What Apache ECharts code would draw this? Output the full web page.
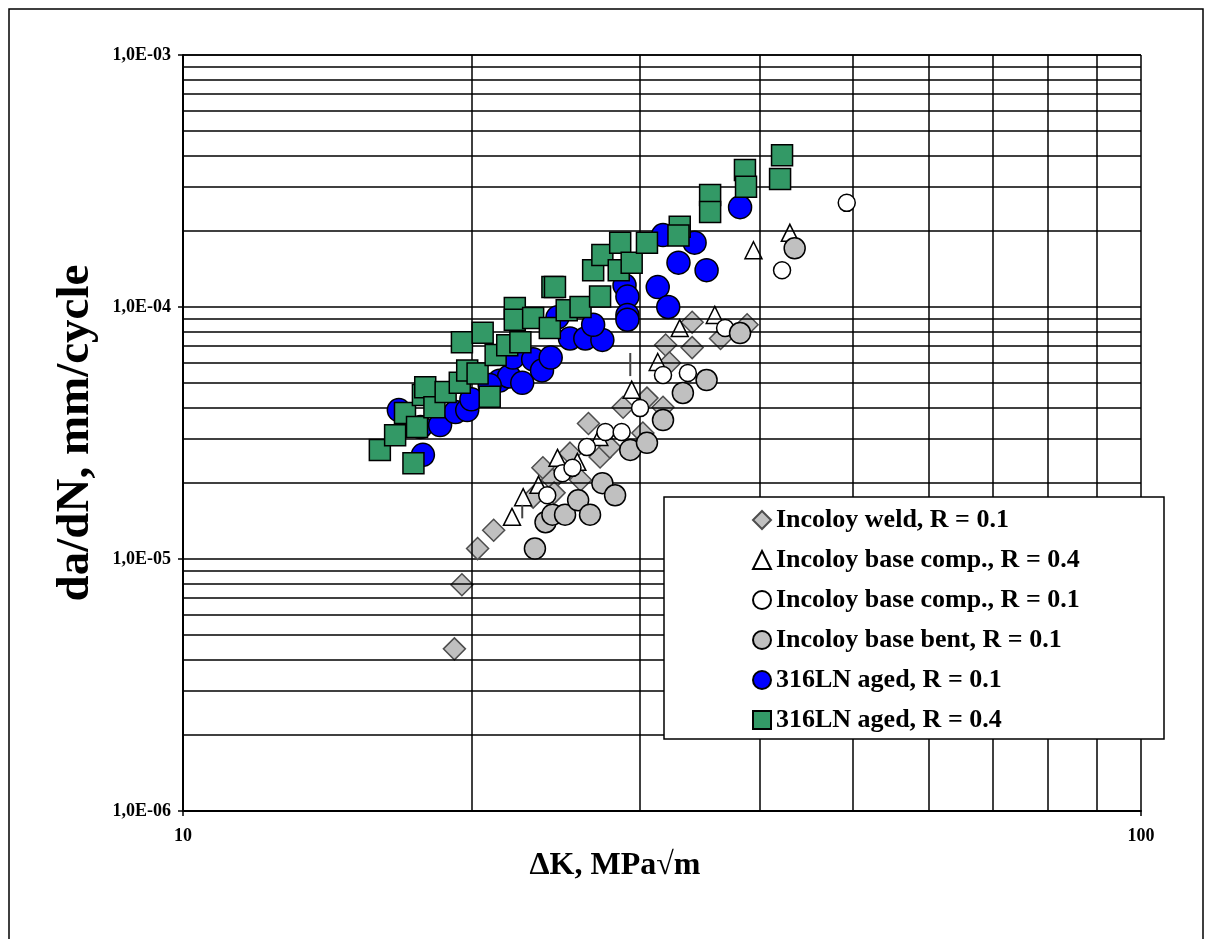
<!DOCTYPE html>
<html>
<head>
<meta charset="utf-8">
<script src="https://cdn.jsdelivr.net/npm/echarts@6/dist/echarts.min.js"></script>
<style>
html,body{margin:0;padding:0;background:#fff;}
#c{width:1211px;height:939px;}
</style>
</head>
<body>
<div id="c"></div>
<script>
// ---- Data (ΔK [MPa√m], da/dN [mm/cycle]) ----
const seriesNames = [
  'Incoloy weld, R = 0.1',
  'Incoloy base comp., R = 0.4',
  'Incoloy base comp., R = 0.1',
  'Incoloy base bent, R = 0.1',
  '316LN aged, R = 0.1',
  '316LN aged, R = 0.4'
];
const incoloyWeld = [
  [19.2,4.4e-6],[19.55,7.9e-6],[20.3,1.1e-5],[21.1,1.3e-5],[23.2,1.76e-5],[23.75,2.3e-5],
  [24.3,2.06e-5],[24.4,1.83e-5],[25.35,2.63e-5],[26.0,2.06e-5],[26.5,3.45e-5],[27.25,2.54e-5],
  [27.9,2.78e-5],[28.8,4.0e-5],[30.2,3.16e-5],[30.5,4.35e-5],[31.7,4.0e-5],[31.9,7.07e-5],
  [32.2,6.0e-5],[34.0,6.9e-5],[34.0,8.7e-5],[36.4,7.5e-5],[38.8,8.5e-5]
];
const incoloyComp04 = [
  [22.05,1.47e-5],[22.65,1.76e-5],[23.5,1.97e-5],[24.6,2.52e-5],[25.8,2.43e-5],[27.2,3.05e-5],
  [29.4,4.7e-5],[31.3,6.05e-5],[33.0,8.25e-5],[35.9,9.3e-5],[39.4,1.68e-4],[43.0,1.97e-4]
];
const incoloyComp01 = [
  [24.0,1.79e-5],[24.9,2.19e-5],[25.5,2.3e-5],[26.4,2.78e-5],[27.6,3.19e-5],[28.7,3.19e-5],
  [30.0,3.97e-5],[31.7,5.37e-5],[33.65,5.47e-5],[36.8,8.25e-5],[42.2,1.4e-4],[49.3,2.59e-4]
];
const incoloyBent = [
  [23.3,1.1e-5],[23.9,1.4e-5],[24.3,1.5e-5],[25.05,1.5e-5],[25.85,1.71e-5],[26.6,1.5e-5],
  [27.4,2.0e-5],[28.25,1.79e-5],[29.3,2.71e-5],[30.5,2.89e-5],[31.7,3.56e-5],[33.25,4.56e-5],
  [35.2,5.13e-5],[38.15,7.88e-5],[43.5,1.71e-4]
];
const aged01 = [
  [17.8,2.59e-5],[17.7,3.34e-5],[16.8,3.9e-5],[18.55,3.4e-5],[19.25,3.83e-5],[19.8,3.9e-5],
  [20.0,4.3e-5],[21.4,5.1e-5],[21.9,5.3e-5],[20.9,4.9e-5],[22.6,5.0e-5],[22.1,6.3e-5],
  [23.2,6.2e-5],[23.7,5.6e-5],[24.2,6.3e-5],[24.6,9.1e-5],[25.35,7.5e-5],[26.3,7.5e-5],
  [27.4,7.4e-5],[26.8,8.5e-5],[28.9,1.22e-4],[29.1,1.1e-4],[29.1,9.3e-5],[29.1,8.9e-5],
  [31.3,1.2e-4],[32.1,1.0e-4],[32.9,1.5e-4],[35.2,1.4e-4],[34.2,1.8e-4],[31.7,1.93e-4],
  [38.15,2.49e-4]
];
const aged04 = [
  [16.05,2.71e-5],[16.65,3.1e-5],[17.05,3.8e-5],[17.4,2.4e-5],[17.55,3.34e-5],[17.8,4.48e-5],
  [17.9,4.8e-5],[18.3,4.0e-5],[18.8,4.6e-5],[19.45,5.0e-5],[19.55,7.25e-5],[19.8,5.6e-5],
  [20.3,5.45e-5],[20.55,7.9e-5],[20.9,4.4e-5],[21.2,6.45e-5],[21.8,7.05e-5],[22.2,9.9e-5],
  [22.2,8.9e-5],[22.5,7.25e-5],[23.2,9.05e-5],[24.15,8.25e-5],[24.3,1.2e-4],[24.45,1.2e-4],
  [25.15,9.7e-5],[26.0,1.0e-4],[27.25,1.1e-4],[26.8,1.4e-4],[27.4,1.61e-4],[28.6,1.8e-4],
  [28.5,1.4e-4],[29.4,1.5e-4],[30.5,1.8e-4],[33.0,2.08e-4],[32.9,1.92e-4],[35.5,2.78e-4],
  [35.5,2.38e-4],[38.6,3.5e-4],[38.7,3.0e-4],[42.2,4.0e-4],[42.0,3.22e-4]
];
// short vertical bars [ΔK, low, high]
const dashBars = [[29.3,5.32e-5,6.57e-5],[22.6,1.45e-5,1.64e-5]];
// axis ranges and minor grid values
const xRange = [10, 100];
const yRange = [1e-6, 1e-3];
const xMinorGrid = [20,30,40,50,60,70,80,90];
const yMinorMult = [2,3,4,5,6,7,8,9];
const yDecades = [1e-6,1e-5,1e-4];

const FONT = '"Liberation Serif", "Times New Roman", serif';
const gridMark = [];
xMinorGrid.forEach(v => gridMark.push([{coord:[v, yRange[0]]},{coord:[v, yRange[1]]}]));
yDecades.forEach(d => yMinorMult.forEach(m => {
  const v = +(m*d).toPrecision(3);
  gridMark.push([{coord:[xRange[0], v]},{coord:[xRange[1], v]}]);
}));

function fmtY(v){
  const e = Math.round(Math.log10(v));
  const a = Math.abs(e);
  return '1,0E' + (e<0?'-':'+') + (a<10?'0':'') + a;
}

const chart = echarts.init(document.getElementById('c'), null, {renderer:'canvas'});
const sc = (name, data, symbol, size, fill, border, z) => ({
  name, type:'scatter', data, symbol, symbolSize:size, z,
  itemStyle:{color:fill, borderColor:border, borderWidth:1.5, opacity:1},
  emphasis:{disabled:true}, animation:false
});
chart.setOption({
  animation:false,
  backgroundColor:'#fff',
  grid:{left:183, right:70, top:55, bottom:128, containLabel:false},
  xAxis:{
    type:'log', logBase:10, min:xRange[0], max:xRange[1],
    axisLine:{show:true, onZero:false, lineStyle:{color:'#000', width:2}},
    axisTick:{show:true, length:5, inside:false, lineStyle:{color:'#000', width:1.5}},
    minorTick:{show:false},
    axisLabel:{fontFamily:FONT, fontWeight:'bold', fontSize:18, color:'#000', margin:16},
    splitLine:{show:true, lineStyle:{color:'#000', width:1.5}}
  },
  yAxis:{
    type:'log', logBase:10, min:yRange[0], max:yRange[1],
    name:'da/dN, mm/cycle', nameLocation:'middle', nameGap:84, nameRotate:90,
    nameTextStyle:{fontFamily:FONT, fontWeight:'bold', fontSize:47, color:'#000'},
    axisLine:{show:true, onZero:false, lineStyle:{color:'#000', width:2}},
    axisTick:{show:true, length:5, inside:false, lineStyle:{color:'#000', width:1.5}},
    minorTick:{show:false},
    axisLabel:{fontFamily:FONT, fontWeight:'bold', fontSize:18, color:'#000', margin:12, formatter:fmtY},
    splitLine:{show:true, lineStyle:{color:'#000', width:1.5}}
  },
  legend:{
    orient:'vertical', left:752, top:507, padding:0,
    itemWidth:18, itemHeight:18, itemGap:14,
    textStyle:{fontFamily:FONT, fontWeight:'bold', fontSize:26, lineHeight:26, color:'#000'},
    data:seriesNames, z:20, selectedMode:false
  },
  graphic:[
    {type:'rect', z:-1, silent:true, shape:{x:9, y:9, width:1194, height:960},
     style:{fill:'none', stroke:'#000', lineWidth:1.5}},
    {type:'rect', z:10, silent:true, shape:{x:664, y:497, width:500, height:242},
     style:{fill:'#fff', stroke:'#000', lineWidth:1.5}},
    {type:'text', z:10, silent:true, x:615, y:866,
     style:{text:'ΔK, MPa√m', font:'bold 32px ' + FONT, fill:'#000', align:'center', verticalAlign:'middle'}}
  ],
  series:[
    {type:'scatter', data:[], silent:true, z:1,
     markLine:{silent:true, symbol:'none', animation:false, label:{show:false},
       lineStyle:{color:'#000', width:1.5, type:'solid'}, emphasis:{disabled:true}, data:gridMark}},
    sc(seriesNames[0], incoloyWeld, 'diamond', 22, '#c0c0c0', '#4d4d4d', 3),
    sc(seriesNames[1], incoloyComp04, 'triangle', 17, '#ffffff', '#000', 4),
    sc(seriesNames[2], incoloyComp01, 'circle', 17, '#ffffff', '#000', 5),
    sc(seriesNames[3], incoloyBent, 'circle', 21, '#c0c0c0', '#000', 6),
    sc(seriesNames[4], aged01, 'circle', 23, '#0000ff', '#000', 7),
    sc(seriesNames[5], aged04, 'rect', 21, '#339966', '#000', 8),
    {type:'custom', data:dashBars, z:9, silent:true,
     renderItem:(params, api) => {
       const p1 = api.coord([api.value(0), api.value(1)]);
       const p2 = api.coord([api.value(0), api.value(2)]);
       return {type:'line', shape:{x1:p1[0], y1:p1[1], x2:p2[0], y2:p2[1]},
               style:{stroke:'#444', lineWidth:2}};
     }}
  ]
});
</script>
</body>
</html>
